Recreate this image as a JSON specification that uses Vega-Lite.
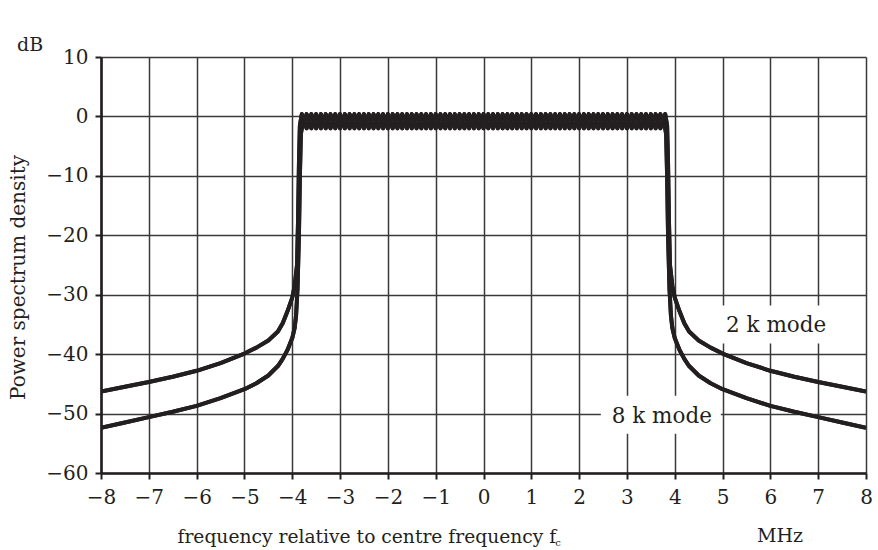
{
  "$schema": "https://vega.github.io/schema/vega-lite/v6.json",
  "width": 765,
  "height": 416,
  "autosize": {"type": "none"},
  "padding": {"left": 101, "top": 57, "right": 12, "bottom": 77},
  "background": "white",
  "config": {
    "view": {"stroke": null},
    "font": "DejaVu Serif",
    "axis": {
      "labelFont": "DejaVu Serif",
      "titleFont": "DejaVu Serif",
      "labelColor": "#231f20",
      "titleColor": "#231f20",
      "titleFontWeight": "normal",
      "gridColor": "#3a3a3a",
      "gridWidth": 1.5,
      "gridOpacity": 1,
      "domainColor": "#231f20",
      "domainWidth": 2.6,
      "tickColor": "#231f20",
      "tickWidth": 2,
      "tickSize": 6
    }
  },
  "title": {
    "text": "dB",
    "anchor": "start",
    "frame": "group",
    "dx": -84,
    "offset": -8,
    "fontSize": 19,
    "font": "DejaVu Serif",
    "fontWeight": "normal",
    "color": "#231f20"
  },
  "datasets": {
    "curves": [
      {"mode": "2k", "f": -8, "dB": -46.3}, {"mode": "2k", "f": -7.5, "dB": -45.5}, {"mode": "2k", "f": -7, "dB": -44.7},
      {"mode": "2k", "f": -6.5, "dB": -43.8}, {"mode": "2k", "f": -6, "dB": -42.8}, {"mode": "2k", "f": -5.5, "dB": -41.5},
      {"mode": "2k", "f": -5, "dB": -39.9}, {"mode": "2k", "f": -4.75, "dB": -38.9}, {"mode": "2k", "f": -4.5, "dB": -37.7},
      {"mode": "2k", "f": -4.3, "dB": -36.2}, {"mode": "2k", "f": -4.2, "dB": -34.8}, {"mode": "2k", "f": -4.1, "dB": -32.8},
      {"mode": "2k", "f": -4.0, "dB": -30.5}, {"mode": "2k", "f": -3.95, "dB": -28.5}, {"mode": "2k", "f": -3.9, "dB": -25},
      {"mode": "2k", "f": -3.88, "dB": -18}, {"mode": "2k", "f": -3.86, "dB": -8}, {"mode": "2k", "f": -3.84, "dB": -1.5},
      {"mode": "2k", "f": -3.8, "dB": 0.4}, {"mode": "2k", "f": -3.7, "dB": -2.0}, {"mode": "2k", "f": -3.6, "dB": 0.4},
      {"mode": "2k", "f": -3.5, "dB": -2.0}, {"mode": "2k", "f": -3.4, "dB": 0.4}, {"mode": "2k", "f": -3.3, "dB": -2.0},
      {"mode": "2k", "f": -3.2, "dB": 0.4}, {"mode": "2k", "f": -3.1, "dB": -2.0}, {"mode": "2k", "f": -3.0, "dB": 0.4},
      {"mode": "2k", "f": -2.9, "dB": -2.0}, {"mode": "2k", "f": -2.8, "dB": 0.4}, {"mode": "2k", "f": -2.7, "dB": -2.0},
      {"mode": "2k", "f": -2.6, "dB": 0.4}, {"mode": "2k", "f": -2.5, "dB": -2.0}, {"mode": "2k", "f": -2.4, "dB": 0.4},
      {"mode": "2k", "f": -2.3, "dB": -2.0}, {"mode": "2k", "f": -2.2, "dB": 0.4}, {"mode": "2k", "f": -2.1, "dB": -2.0},
      {"mode": "2k", "f": -2.0, "dB": 0.4}, {"mode": "2k", "f": -1.9, "dB": -2.0}, {"mode": "2k", "f": -1.8, "dB": 0.4},
      {"mode": "2k", "f": -1.7, "dB": -2.0}, {"mode": "2k", "f": -1.6, "dB": 0.4}, {"mode": "2k", "f": -1.5, "dB": -2.0},
      {"mode": "2k", "f": -1.4, "dB": 0.4}, {"mode": "2k", "f": -1.3, "dB": -2.0}, {"mode": "2k", "f": -1.2, "dB": 0.4},
      {"mode": "2k", "f": -1.1, "dB": -2.0}, {"mode": "2k", "f": -1.0, "dB": 0.4}, {"mode": "2k", "f": -0.9, "dB": -2.0},
      {"mode": "2k", "f": -0.8, "dB": 0.4}, {"mode": "2k", "f": -0.7, "dB": -2.0}, {"mode": "2k", "f": -0.6, "dB": 0.4},
      {"mode": "2k", "f": -0.5, "dB": -2.0}, {"mode": "2k", "f": -0.4, "dB": 0.4}, {"mode": "2k", "f": -0.3, "dB": -2.0},
      {"mode": "2k", "f": -0.2, "dB": 0.4}, {"mode": "2k", "f": -0.1, "dB": -2.0}, {"mode": "2k", "f": 0.0, "dB": 0.4},
      {"mode": "2k", "f": 0.1, "dB": -2.0}, {"mode": "2k", "f": 0.2, "dB": 0.4}, {"mode": "2k", "f": 0.3, "dB": -2.0},
      {"mode": "2k", "f": 0.4, "dB": 0.4}, {"mode": "2k", "f": 0.5, "dB": -2.0}, {"mode": "2k", "f": 0.6, "dB": 0.4},
      {"mode": "2k", "f": 0.7, "dB": -2.0}, {"mode": "2k", "f": 0.8, "dB": 0.4}, {"mode": "2k", "f": 0.9, "dB": -2.0},
      {"mode": "2k", "f": 1.0, "dB": 0.4}, {"mode": "2k", "f": 1.1, "dB": -2.0}, {"mode": "2k", "f": 1.2, "dB": 0.4},
      {"mode": "2k", "f": 1.3, "dB": -2.0}, {"mode": "2k", "f": 1.4, "dB": 0.4}, {"mode": "2k", "f": 1.5, "dB": -2.0},
      {"mode": "2k", "f": 1.6, "dB": 0.4}, {"mode": "2k", "f": 1.7, "dB": -2.0}, {"mode": "2k", "f": 1.8, "dB": 0.4},
      {"mode": "2k", "f": 1.9, "dB": -2.0}, {"mode": "2k", "f": 2.0, "dB": 0.4}, {"mode": "2k", "f": 2.1, "dB": -2.0},
      {"mode": "2k", "f": 2.2, "dB": 0.4}, {"mode": "2k", "f": 2.3, "dB": -2.0}, {"mode": "2k", "f": 2.4, "dB": 0.4},
      {"mode": "2k", "f": 2.5, "dB": -2.0}, {"mode": "2k", "f": 2.6, "dB": 0.4}, {"mode": "2k", "f": 2.7, "dB": -2.0},
      {"mode": "2k", "f": 2.8, "dB": 0.4}, {"mode": "2k", "f": 2.9, "dB": -2.0}, {"mode": "2k", "f": 3.0, "dB": 0.4},
      {"mode": "2k", "f": 3.1, "dB": -2.0}, {"mode": "2k", "f": 3.2, "dB": 0.4}, {"mode": "2k", "f": 3.3, "dB": -2.0},
      {"mode": "2k", "f": 3.4, "dB": 0.4}, {"mode": "2k", "f": 3.5, "dB": -2.0}, {"mode": "2k", "f": 3.6, "dB": 0.4},
      {"mode": "2k", "f": 3.7, "dB": -2.0}, {"mode": "2k", "f": 3.8, "dB": 0.4},
      {"mode": "2k", "f": 3.84, "dB": -1.5}, {"mode": "2k", "f": 3.86, "dB": -8}, {"mode": "2k", "f": 3.88, "dB": -18},
      {"mode": "2k", "f": 3.9, "dB": -25}, {"mode": "2k", "f": 3.95, "dB": -28.5}, {"mode": "2k", "f": 4.0, "dB": -30.5},
      {"mode": "2k", "f": 4.1, "dB": -32.8}, {"mode": "2k", "f": 4.2, "dB": -34.8}, {"mode": "2k", "f": 4.3, "dB": -36.2},
      {"mode": "2k", "f": 4.5, "dB": -37.7}, {"mode": "2k", "f": 4.75, "dB": -38.9}, {"mode": "2k", "f": 5, "dB": -39.9},
      {"mode": "2k", "f": 5.5, "dB": -41.5}, {"mode": "2k", "f": 6, "dB": -42.8}, {"mode": "2k", "f": 6.5, "dB": -43.8},
      {"mode": "2k", "f": 7, "dB": -44.7}, {"mode": "2k", "f": 7.5, "dB": -45.5}, {"mode": "2k", "f": 8, "dB": -46.3},

      {"mode": "8k", "f": -8, "dB": -52.4}, {"mode": "8k", "f": -7.5, "dB": -51.5}, {"mode": "8k", "f": -7, "dB": -50.6},
      {"mode": "8k", "f": -6.5, "dB": -49.7}, {"mode": "8k", "f": -6, "dB": -48.7}, {"mode": "8k", "f": -5.5, "dB": -47.4},
      {"mode": "8k", "f": -5, "dB": -45.9}, {"mode": "8k", "f": -4.75, "dB": -44.9}, {"mode": "8k", "f": -4.5, "dB": -43.6},
      {"mode": "8k", "f": -4.3, "dB": -42.0}, {"mode": "8k", "f": -4.2, "dB": -40.8}, {"mode": "8k", "f": -4.1, "dB": -39.3},
      {"mode": "8k", "f": -4.0, "dB": -37.3}, {"mode": "8k", "f": -3.95, "dB": -35.6}, {"mode": "8k", "f": -3.92, "dB": -33.5},
      {"mode": "8k", "f": -3.89, "dB": -29}, {"mode": "8k", "f": -3.86, "dB": -20}, {"mode": "8k", "f": -3.84, "dB": -10},
      {"mode": "8k", "f": -3.82, "dB": -3},
      {"mode": "8k", "f": -3.8, "dB": -2.0}, {"mode": "8k", "f": -3.7, "dB": 0.4}, {"mode": "8k", "f": -3.6, "dB": -2.0},
      {"mode": "8k", "f": -3.5, "dB": 0.4}, {"mode": "8k", "f": -3.4, "dB": -2.0}, {"mode": "8k", "f": -3.3, "dB": 0.4},
      {"mode": "8k", "f": -3.2, "dB": -2.0}, {"mode": "8k", "f": -3.1, "dB": 0.4}, {"mode": "8k", "f": -3.0, "dB": -2.0},
      {"mode": "8k", "f": -2.9, "dB": 0.4}, {"mode": "8k", "f": -2.8, "dB": -2.0}, {"mode": "8k", "f": -2.7, "dB": 0.4},
      {"mode": "8k", "f": -2.6, "dB": -2.0}, {"mode": "8k", "f": -2.5, "dB": 0.4}, {"mode": "8k", "f": -2.4, "dB": -2.0},
      {"mode": "8k", "f": -2.3, "dB": 0.4}, {"mode": "8k", "f": -2.2, "dB": -2.0}, {"mode": "8k", "f": -2.1, "dB": 0.4},
      {"mode": "8k", "f": -2.0, "dB": -2.0}, {"mode": "8k", "f": -1.9, "dB": 0.4}, {"mode": "8k", "f": -1.8, "dB": -2.0},
      {"mode": "8k", "f": -1.7, "dB": 0.4}, {"mode": "8k", "f": -1.6, "dB": -2.0}, {"mode": "8k", "f": -1.5, "dB": 0.4},
      {"mode": "8k", "f": -1.4, "dB": -2.0}, {"mode": "8k", "f": -1.3, "dB": 0.4}, {"mode": "8k", "f": -1.2, "dB": -2.0},
      {"mode": "8k", "f": -1.1, "dB": 0.4}, {"mode": "8k", "f": -1.0, "dB": -2.0}, {"mode": "8k", "f": -0.9, "dB": 0.4},
      {"mode": "8k", "f": -0.8, "dB": -2.0}, {"mode": "8k", "f": -0.7, "dB": 0.4}, {"mode": "8k", "f": -0.6, "dB": -2.0},
      {"mode": "8k", "f": -0.5, "dB": 0.4}, {"mode": "8k", "f": -0.4, "dB": -2.0}, {"mode": "8k", "f": -0.3, "dB": 0.4},
      {"mode": "8k", "f": -0.2, "dB": -2.0}, {"mode": "8k", "f": -0.1, "dB": 0.4}, {"mode": "8k", "f": 0.0, "dB": -2.0},
      {"mode": "8k", "f": 0.1, "dB": 0.4}, {"mode": "8k", "f": 0.2, "dB": -2.0}, {"mode": "8k", "f": 0.3, "dB": 0.4},
      {"mode": "8k", "f": 0.4, "dB": -2.0}, {"mode": "8k", "f": 0.5, "dB": 0.4}, {"mode": "8k", "f": 0.6, "dB": -2.0},
      {"mode": "8k", "f": 0.7, "dB": 0.4}, {"mode": "8k", "f": 0.8, "dB": -2.0}, {"mode": "8k", "f": 0.9, "dB": 0.4},
      {"mode": "8k", "f": 1.0, "dB": -2.0}, {"mode": "8k", "f": 1.1, "dB": 0.4}, {"mode": "8k", "f": 1.2, "dB": -2.0},
      {"mode": "8k", "f": 1.3, "dB": 0.4}, {"mode": "8k", "f": 1.4, "dB": -2.0}, {"mode": "8k", "f": 1.5, "dB": 0.4},
      {"mode": "8k", "f": 1.6, "dB": -2.0}, {"mode": "8k", "f": 1.7, "dB": 0.4}, {"mode": "8k", "f": 1.8, "dB": -2.0},
      {"mode": "8k", "f": 1.9, "dB": 0.4}, {"mode": "8k", "f": 2.0, "dB": -2.0}, {"mode": "8k", "f": 2.1, "dB": 0.4},
      {"mode": "8k", "f": 2.2, "dB": -2.0}, {"mode": "8k", "f": 2.3, "dB": 0.4}, {"mode": "8k", "f": 2.4, "dB": -2.0},
      {"mode": "8k", "f": 2.5, "dB": 0.4}, {"mode": "8k", "f": 2.6, "dB": -2.0}, {"mode": "8k", "f": 2.7, "dB": 0.4},
      {"mode": "8k", "f": 2.8, "dB": -2.0}, {"mode": "8k", "f": 2.9, "dB": 0.4}, {"mode": "8k", "f": 3.0, "dB": -2.0},
      {"mode": "8k", "f": 3.1, "dB": 0.4}, {"mode": "8k", "f": 3.2, "dB": -2.0}, {"mode": "8k", "f": 3.3, "dB": 0.4},
      {"mode": "8k", "f": 3.4, "dB": -2.0}, {"mode": "8k", "f": 3.5, "dB": 0.4}, {"mode": "8k", "f": 3.6, "dB": -2.0},
      {"mode": "8k", "f": 3.7, "dB": 0.4}, {"mode": "8k", "f": 3.8, "dB": -2.0},
      {"mode": "8k", "f": 3.82, "dB": -3}, {"mode": "8k", "f": 3.84, "dB": -10},
      {"mode": "8k", "f": 3.86, "dB": -20}, {"mode": "8k", "f": 3.89, "dB": -29}, {"mode": "8k", "f": 3.92, "dB": -33.5},
      {"mode": "8k", "f": 3.95, "dB": -35.6}, {"mode": "8k", "f": 4.0, "dB": -37.3}, {"mode": "8k", "f": 4.1, "dB": -39.3},
      {"mode": "8k", "f": 4.2, "dB": -40.8}, {"mode": "8k", "f": 4.3, "dB": -42.0}, {"mode": "8k", "f": 4.5, "dB": -43.6},
      {"mode": "8k", "f": 4.75, "dB": -44.9}, {"mode": "8k", "f": 5, "dB": -45.9}, {"mode": "8k", "f": 5.5, "dB": -47.4},
      {"mode": "8k", "f": 6, "dB": -48.7}, {"mode": "8k", "f": 6.5, "dB": -49.7}, {"mode": "8k", "f": 7, "dB": -50.6},
      {"mode": "8k", "f": 7.5, "dB": -51.5}, {"mode": "8k", "f": 8, "dB": -52.4}
    ],
    "labels": [
      {"label": "2 k mode", "f": 6.12, "dB": -35.0},
      {"label": "8 k mode", "f": 3.73, "dB": -50.2}
    ]
  },
  "layer": [
    {
      "data": {"name": "curves"},
      "mark": {"type": "line", "strokeWidth": 4, "color": "#231f20", "strokeJoin": "round", "clip": true},
      "encoding": {
        "x": {
          "field": "f",
          "type": "quantitative",
          "scale": {"domain": [-8, 8], "nice": false, "zero": false},
          "axis": {
            "values": [-8, -7, -6, -5, -4, -3, -2, -1, 0, 1, 2, 3, 4, 5, 6, 7, 8],
            "grid": true,
            "labelFontSize": 20,
            "labelPadding": 8,
            "labelFlush": false,
            "title": "frequency relative to centre frequency f",
            "titleFontSize": 18.7,
            "titleAnchor": "start",
            "titleAlign": "left",
            "titleBaseline": "alphabetic",
            "titleX": 76,
            "titleY": 69
          }
        },
        "y": {
          "field": "dB",
          "type": "quantitative",
          "scale": {"domain": [-60, 10], "nice": false, "zero": false},
          "axis": {
            "values": [-60, -50, -40, -30, -20, -10, 0, 10],
            "grid": true,
            "labelFontSize": 20,
            "labelPadding": 7,
            "labelFlush": false,
            "title": "Power spectrum density",
            "titleFontSize": 20,
            "titleAngle": -90,
            "titleAnchor": "start",
            "titleAlign": "center",
            "titleBaseline": "alphabetic",
            "titleX": -77,
            "titleY": 220
          }
        },
        "detail": {"field": "mode"}
      }
    },
    {
      "data": {"name": "labels"},
      "mark": {"type": "rect", "fill": "white", "xOffset": -61, "x2Offset": 59, "yOffset": -19, "y2Offset": 19},
      "encoding": {
        "x": {"field": "f", "type": "quantitative"},
        "x2": {"field": "f"},
        "y": {"field": "dB", "type": "quantitative"},
        "y2": {"field": "dB"}
      }
    },
    {
      "data": {"name": "curves"},
      "mark": {"type": "line", "strokeWidth": 4, "color": "#231f20", "strokeJoin": "round", "clip": true},
      "encoding": {
        "x": {"field": "f", "type": "quantitative"},
        "y": {"field": "dB", "type": "quantitative"},
        "detail": {"field": "mode"}
      }
    },
    {
      "data": {"name": "labels"},
      "mark": {"type": "text", "fontSize": 21.5, "font": "DejaVu Serif", "color": "#231f20", "baseline": "middle", "align": "center", "dy": 2},
      "encoding": {
        "x": {"field": "f", "type": "quantitative"},
        "y": {"field": "dB", "type": "quantitative"},
        "text": {"field": "label"}
      }
    },
    {
      "data": {"values": [{"t": "MHz"}]},
      "mark": {"type": "text", "fontSize": 19, "font": "DejaVu Serif", "color": "#231f20", "baseline": "alphabetic", "align": "center"},
      "encoding": {
        "x": {"datum": 6.2, "type": "quantitative"},
        "y": {"datum": -71.6, "type": "quantitative"},
        "text": {"field": "t"}
      }
    },
    {
      "data": {"values": [{"t": "c"}]},
      "mark": {"type": "text", "fontSize": 10, "font": "DejaVu Serif", "color": "#231f20", "baseline": "alphabetic", "align": "left"},
      "encoding": {
        "x": {"datum": 1.5, "type": "quantitative"},
        "y": {"datum": -72.3, "type": "quantitative"},
        "text": {"field": "t"}
      }
    }
  ]
}
